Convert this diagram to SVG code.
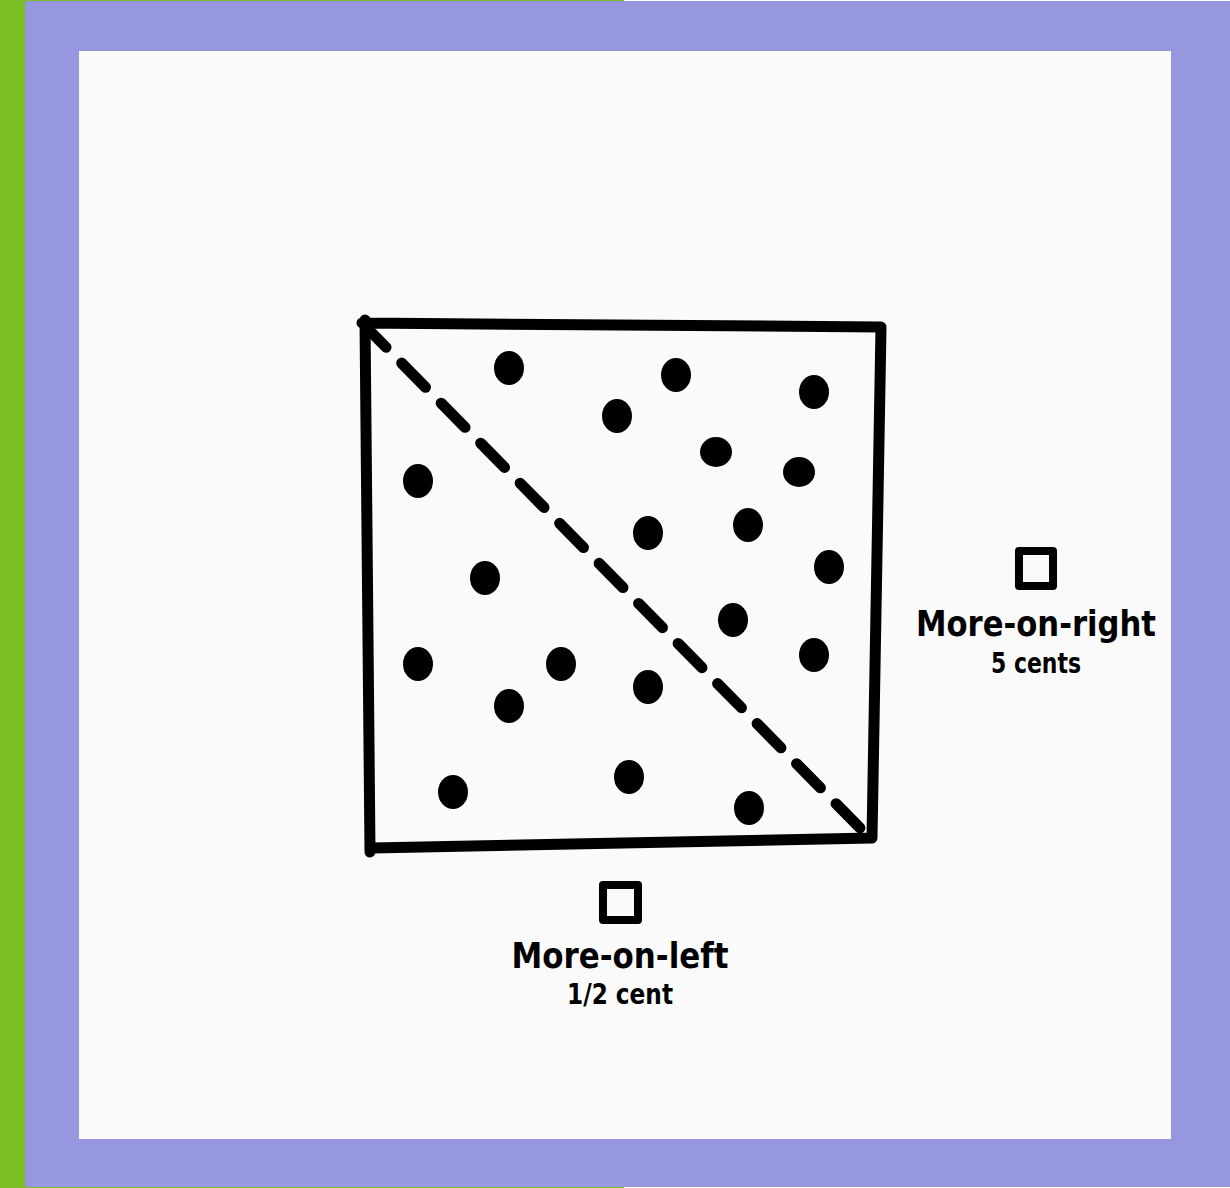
<svg xmlns="http://www.w3.org/2000/svg" width="1230" height="1188" viewBox="0 0 1230 1188">
<style>
.edge{fill:none;stroke:#000;stroke-width:11;stroke-linecap:round;stroke-linejoin:round}
.dash{fill:none;stroke:#000;stroke-width:11;stroke-linecap:round;stroke-dasharray:34 22.25;stroke-dashoffset:14}
.dot{fill:#000}
.box{fill:none;stroke:#000;stroke-width:8;stroke-linejoin:round}
.lbl{font-family:"DejaVu Sans Condensed","DejaVu Sans",sans-serif;font-weight:bold;fill:#000;text-anchor:middle}
</style>
<rect x="0" y="0" width="624" height="1188" fill="#7bbe23"/>
<rect x="25" y="1" width="1205" height="1186" fill="#9797e0"/>
<rect x="79" y="51" width="1092" height="1088" fill="#fafafa"/>
<g id="square">
<path class="edge" d="M362,323 L881,327 L872,838 L372,848 M365,320 L370,852"/>
<line class="dash" x1="372" y1="333" x2="860" y2="828"/>
</g>
<g id="dots">
<ellipse class="dot" cx="509" cy="368" rx="15" ry="17"/>
<ellipse class="dot" cx="676" cy="375" rx="15" ry="17"/>
<ellipse class="dot" cx="814" cy="392" rx="15" ry="17"/>
<ellipse class="dot" cx="617" cy="416" rx="15" ry="17"/>
<ellipse class="dot" cx="716" cy="452" rx="16" ry="15"/>
<ellipse class="dot" cx="799" cy="472" rx="16" ry="15"/>
<ellipse class="dot" cx="418" cy="481" rx="15" ry="17"/>
<ellipse class="dot" cx="648" cy="533" rx="15" ry="17"/>
<ellipse class="dot" cx="748" cy="525" rx="15" ry="17"/>
<ellipse class="dot" cx="829" cy="567" rx="15" ry="17"/>
<ellipse class="dot" cx="485" cy="578" rx="15" ry="17"/>
<ellipse class="dot" cx="733" cy="620" rx="15" ry="17"/>
<ellipse class="dot" cx="418" cy="664" rx="15" ry="17"/>
<ellipse class="dot" cx="561" cy="664" rx="15" ry="17"/>
<ellipse class="dot" cx="509" cy="706" rx="15" ry="17"/>
<ellipse class="dot" cx="648" cy="687" rx="15" ry="17"/>
<ellipse class="dot" cx="814" cy="655" rx="15" ry="17"/>
<ellipse class="dot" cx="453" cy="792" rx="15" ry="17"/>
<ellipse class="dot" cx="629" cy="777" rx="15" ry="17"/>
<ellipse class="dot" cx="749" cy="808" rx="15" ry="17"/>
</g>
<g id="right-option">
<rect class="box" x="1019" y="551" width="34" height="35"/>
<text class="lbl" x="1036" y="636" font-size="36" textLength="240" lengthAdjust="spacingAndGlyphs">More-on-right</text>
<text class="lbl" x="1036" y="673" font-size="28" textLength="90" lengthAdjust="spacingAndGlyphs">5 cents</text>
</g>
<g id="left-option">
<rect class="box" x="603" y="885" width="35" height="35"/>
<text class="lbl" x="620" y="968" font-size="36" textLength="217" lengthAdjust="spacingAndGlyphs">More-on-left</text>
<text class="lbl" x="620" y="1004" font-size="28" textLength="106" lengthAdjust="spacingAndGlyphs">1/2 cent</text>
</g>
</svg>
